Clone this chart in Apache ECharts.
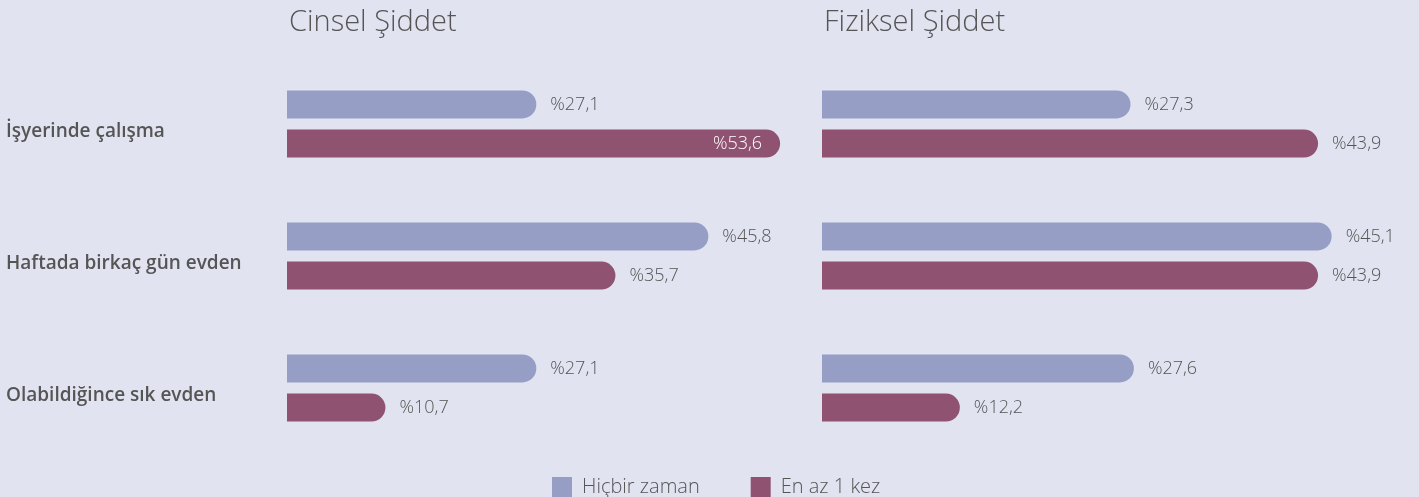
<!DOCTYPE html>
<html>
<head>
<meta charset="utf-8">
<script src="https://cdn.jsdelivr.net/npm/echarts@6/dist/echarts.min.js"></script>
<style>
  html, body { margin: 0; padding: 0; background: #E1E3F0; }
  #chart { width: 1419px; height: 497px; }
</style>
</head>
<body>
<div id="chart"></div>
<script>
// data
var categories = ['İşyerinde çalışma', 'Haftada birkaç gün evden', 'Olabildiğince sık evden']
var panelTitles = ['Cinsel Şiddet', 'Fiziksel Şiddet']
var seriesNames = ['Hiçbir zaman', 'En az 1 kez']
var cinselHicbir = [27.1, 45.8, 27.1]
var cinselEnAz = [53.6, 35.7, 10.7]
var fizikselHicbir = [27.3, 45.1, 27.6]
var fizikselEnAz = [43.9, 43.9, 12.2]

var colors = ['#969EC6', '#8F5271']
var textColor = '#555555'
var font = 'Open Sans'

var chart = echarts.init(document.getElementById('chart'))

function pct(v) {
  return '%' + String(v).replace('.', ',')
}

function barSeries(name, data, idx, color, insideFirst) {
  return {
    name: name,
    type: 'bar',
    xAxisIndex: idx,
    yAxisIndex: idx,
    barWidth: 28,
    barGap: '40%',
    itemStyle: { color: color, borderRadius: [0, 14, 14, 0] },
    label: {
      show: true,
      position: 'right',
      distance: 14,
      fontFamily: font,
      fontWeight: 300,
      fontSize: 18,
      color: textColor,
      formatter: function (p) { return pct(p.value) }
    },
    data: data.map(function (v) {
      // the widest bar carries its label inside
      if (insideFirst && v === Math.max.apply(null, data) && v > 50) {
        return { value: v, label: { position: 'insideRight', distance: 18, color: '#ffffff' } }
      }
      return v
    })
  }
}

chart.setOption({
  backgroundColor: '#E1E3F0',
  animation: false,
  title: [
    {
      text: panelTitles[0],
      left: 284,
      top: 3,
      textStyle: { fontFamily: font, fontWeight: 300, fontSize: 29, color: textColor }
    },
    {
      text: panelTitles[1],
      left: 819,
      top: 3,
      textStyle: { fontFamily: font, fontWeight: 300, fontSize: 29, color: textColor }
    }
  ],
  legend: {
    data: seriesNames,
    left: 552,
    top: 477,
    padding: 0,
    icon: 'rect',
    itemWidth: 20,
    itemHeight: 20,
    itemGap: 51,
    textStyle: { fontFamily: font, fontWeight: 300, fontSize: 20, color: textColor, padding: [0, 0, 0, 5] }
  },
  grid: [
    { left: 287, top: 58, width: 506, bottom: 43 },
    { left: 822, top: 58, width: 565, bottom: 43 }
  ],
  xAxis: [
    { type: 'value', gridIndex: 0, min: 0, max: 55, show: false },
    { type: 'value', gridIndex: 1, min: 0, max: 50, show: false }
  ],
  yAxis: [
    {
      type: 'category',
      gridIndex: 0,
      inverse: true,
      data: categories,
      axisLine: { show: false },
      axisTick: { show: false },
      axisLabel: {
        align: 'left',
        verticalAlign: 'top',
        lineHeight: 16,
        margin: 281,
        fontFamily: font,
        fontWeight: 600,
        fontSize: 19,
        color: textColor
      }
    },
    {
      type: 'category',
      gridIndex: 1,
      inverse: true,
      data: categories,
      show: false
    }
  ],
  series: [
    barSeries(seriesNames[0], cinselHicbir, 0, colors[0], false),
    barSeries(seriesNames[1], cinselEnAz, 0, colors[1], true),
    barSeries(seriesNames[0], fizikselHicbir, 1, colors[0], false),
    barSeries(seriesNames[1], fizikselEnAz, 1, colors[1], false)
  ]
})
</script>
</body>
</html>
